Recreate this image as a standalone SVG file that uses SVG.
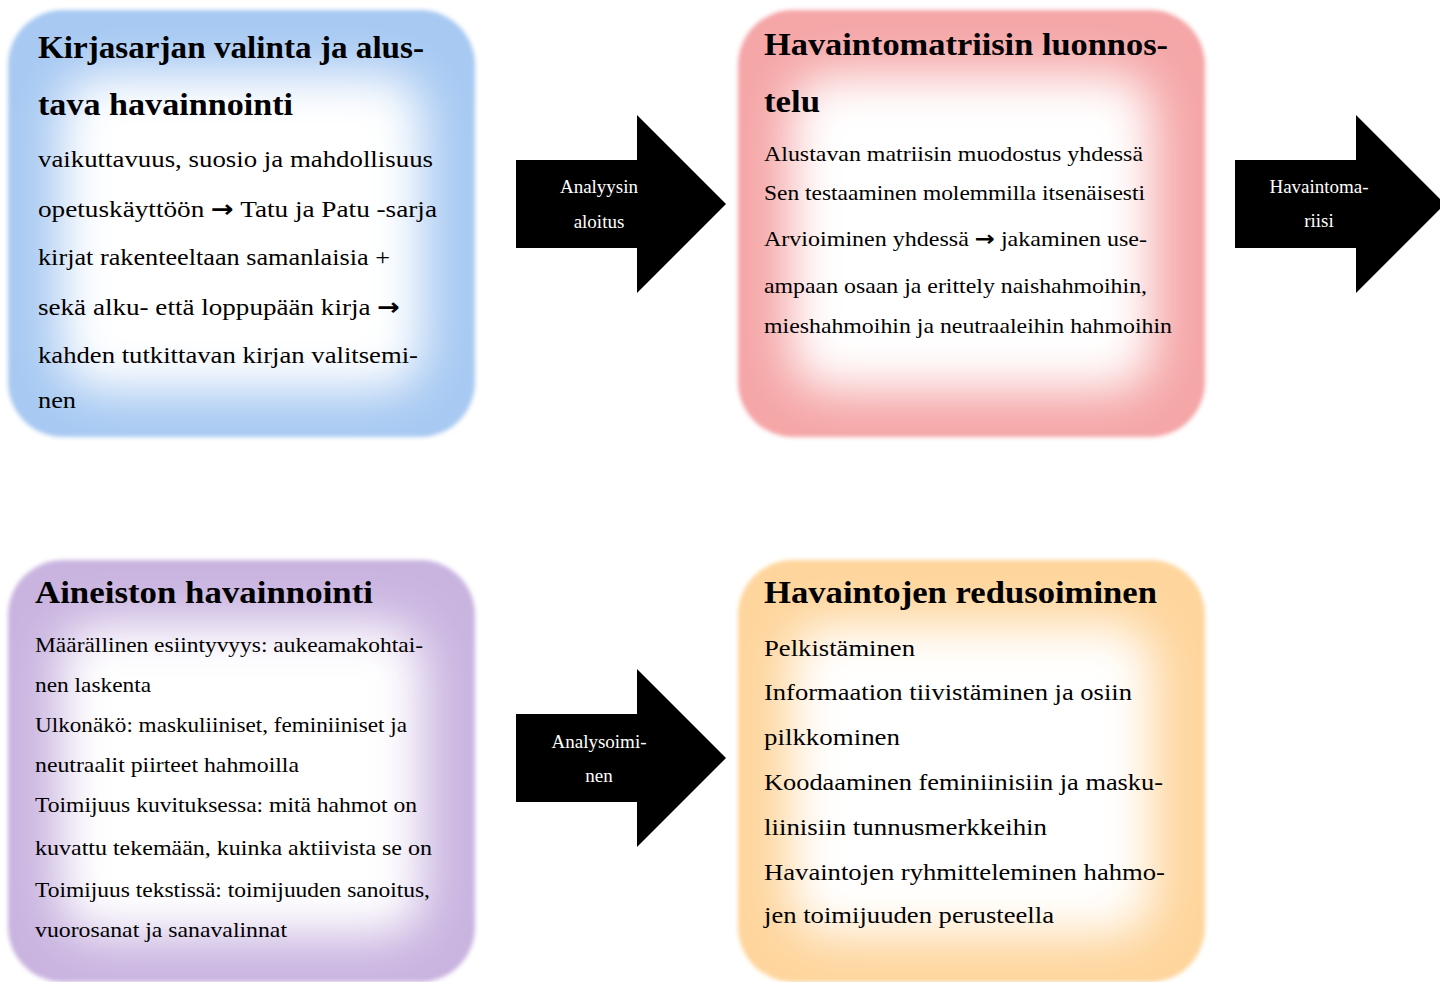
<svg xmlns="http://www.w3.org/2000/svg" width="1440" height="982" viewBox="0 0 1440 982">
<defs>
<filter id="soft" x="-5%" y="-5%" width="110%" height="110%"><feGaussianBlur stdDeviation="2"/></filter>
<filter id="fade" x="-30%" y="-30%" width="160%" height="160%"><feGaussianBlur stdDeviation="24"/></filter>
<style>
.t{font-family:"Liberation Serif","Times New Roman",serif;fill:#000}
.h{font-weight:bold;font-size:31px}
.b1{font-size:23.5px}
.b2{font-size:21px}
.a{font-family:"Liberation Serif","Times New Roman",serif;fill:#fff;font-size:19px;text-anchor:middle}
.ar{font-family:"DejaVu Sans",sans-serif;font-weight:bold}
.inner{fill:#fff;filter:url(#fade)}
</style>
</defs>
<rect width="1440" height="982" fill="#fff"/>

<g id="node-kirjasarja">
<rect x="8" y="10" width="467" height="427" rx="55" fill="#a7c9f2" filter="url(#soft)"/>
<rect class="inner" x="60" y="74" width="363" height="316" rx="40"/>
<text class="t h" x="38" y="58" textLength="386" lengthAdjust="spacingAndGlyphs">Kirjasarjan valinta ja alus-</text>
<text class="t h" x="38" y="115" textLength="255" lengthAdjust="spacingAndGlyphs">tava havainnointi</text>
<text class="t b1" x="38" y="167" textLength="395" lengthAdjust="spacingAndGlyphs">vaikuttavuus, suosio ja mahdollisuus</text>
<text class="t b1" x="38" y="217" textLength="399" lengthAdjust="spacingAndGlyphs">opetuskäyttöön <tspan class="ar">→</tspan> Tatu ja Patu -sarja</text>
<text class="t b1" x="38" y="265" textLength="352" lengthAdjust="spacingAndGlyphs">kirjat rakenteeltaan samanlaisia +</text>
<text class="t b1" x="38" y="315" textLength="362" lengthAdjust="spacingAndGlyphs">sekä alku- että loppupään kirja <tspan class="ar">→</tspan></text>
<text class="t b1" x="38" y="363" textLength="380" lengthAdjust="spacingAndGlyphs">kahden tutkittavan kirjan valitsemi-</text>
<text class="t b1" x="38" y="408" textLength="38" lengthAdjust="spacingAndGlyphs">nen</text>
</g>

<g id="node-matriisi">
<rect x="738" y="10" width="467" height="427" rx="55" fill="#f5a6a7" filter="url(#soft)"/>
<rect class="inner" x="790" y="74" width="363" height="316" rx="40"/>
<text class="t h" x="764" y="55" textLength="404" lengthAdjust="spacingAndGlyphs">Havaintomatriisin luonnos-</text>
<text class="t h" x="764" y="112" textLength="56" lengthAdjust="spacingAndGlyphs">telu</text>
<text class="t b2" x="764" y="161" textLength="379" lengthAdjust="spacingAndGlyphs">Alustavan matriisin muodostus yhdessä</text>
<text class="t b2" x="764" y="200" textLength="381" lengthAdjust="spacingAndGlyphs">Sen testaaminen molemmilla itsenäisesti</text>
<text class="t b2" x="764" y="246" textLength="383" lengthAdjust="spacingAndGlyphs">Arvioiminen yhdessä <tspan class="ar">→</tspan> jakaminen use-</text>
<text class="t b2" x="764" y="293" textLength="383" lengthAdjust="spacingAndGlyphs">ampaan osaan ja erittely naishahmoihin,</text>
<text class="t b2" x="764" y="333" textLength="408" lengthAdjust="spacingAndGlyphs">mieshahmoihin ja neutraaleihin hahmoihin</text>
</g>

<g id="node-aineisto">
<rect x="8" y="560" width="467" height="422" rx="55" fill="#c9b4e0" filter="url(#soft)"/>
<rect class="inner" x="60" y="624" width="363" height="311" rx="40"/>
<text class="t h" x="35" y="603" textLength="338" lengthAdjust="spacingAndGlyphs">Aineiston havainnointi</text>
<text class="t b2" x="35" y="652" textLength="388" lengthAdjust="spacingAndGlyphs">Määrällinen esiintyvyys: aukeamakohtai-</text>
<text class="t b2" x="35" y="692" textLength="116" lengthAdjust="spacingAndGlyphs">nen laskenta</text>
<text class="t b2" x="35" y="732" textLength="372" lengthAdjust="spacingAndGlyphs">Ulkonäkö: maskuliiniset, feminiiniset ja</text>
<text class="t b2" x="35" y="772" textLength="264" lengthAdjust="spacingAndGlyphs">neutraalit piirteet hahmoilla</text>
<text class="t b2" x="35" y="812" textLength="382" lengthAdjust="spacingAndGlyphs">Toimijuus kuvituksessa: mitä hahmot on</text>
<text class="t b2" x="35" y="855" textLength="397" lengthAdjust="spacingAndGlyphs">kuvattu tekemään, kuinka aktiivista se on</text>
<text class="t b2" x="35" y="897" textLength="395" lengthAdjust="spacingAndGlyphs">Toimijuus tekstissä: toimijuuden sanoitus,</text>
<text class="t b2" x="35" y="937" textLength="252" lengthAdjust="spacingAndGlyphs">vuorosanat ja sanavalinnat</text>
</g>

<g id="node-redusointi">
<rect x="738" y="560" width="467" height="422" rx="55" fill="#fed59c" filter="url(#soft)"/>
<rect class="inner" x="790" y="624" width="363" height="311" rx="40"/>
<text class="t h" x="764" y="603" textLength="393" lengthAdjust="spacingAndGlyphs">Havaintojen redusoiminen</text>
<text class="t b1" x="764" y="656" textLength="151" lengthAdjust="spacingAndGlyphs">Pelkistäminen</text>
<text class="t b1" x="764" y="700" textLength="368" lengthAdjust="spacingAndGlyphs">Informaation tiivistäminen ja osiin</text>
<text class="t b1" x="764" y="745" textLength="136" lengthAdjust="spacingAndGlyphs">pilkkominen</text>
<text class="t b1" x="764" y="790" textLength="399" lengthAdjust="spacingAndGlyphs">Koodaaminen feminiinisiin ja masku-</text>
<text class="t b1" x="764" y="835" textLength="283" lengthAdjust="spacingAndGlyphs">liinisiin tunnusmerkkeihin</text>
<text class="t b1" x="764" y="880" textLength="401" lengthAdjust="spacingAndGlyphs">Havaintojen ryhmitteleminen hahmo-</text>
<text class="t b1" x="764" y="923" textLength="290" lengthAdjust="spacingAndGlyphs">jen toimijuuden perusteella</text>
</g>

<g id="connectors">
<g id="arrow-analyysin-aloitus">
<polygon points="516,160 637,160 637,115 726,204 637,293 637,248 516,248" fill="#000"/>
<text class="a" x="599" y="193">Analyysin</text>
<text class="a" x="599" y="228">aloitus</text>
</g>
<g id="arrow-havaintomatriisi">
<polygon points="1235,160 1356,160 1356,115 1445,204 1356,293 1356,248 1235,248" fill="#000"/>
<text class="a" x="1319" y="193">Havaintoma-</text>
<text class="a" x="1319" y="227">riisi</text>
</g>
<g id="arrow-analysoiminen">
<polygon points="516,714 637,714 637,669 726,758 637,847 637,802 516,802" fill="#000"/>
<text class="a" x="599" y="748">Analysoimi-</text>
<text class="a" x="599" y="782">nen</text>
</g>
</g>
</svg>
